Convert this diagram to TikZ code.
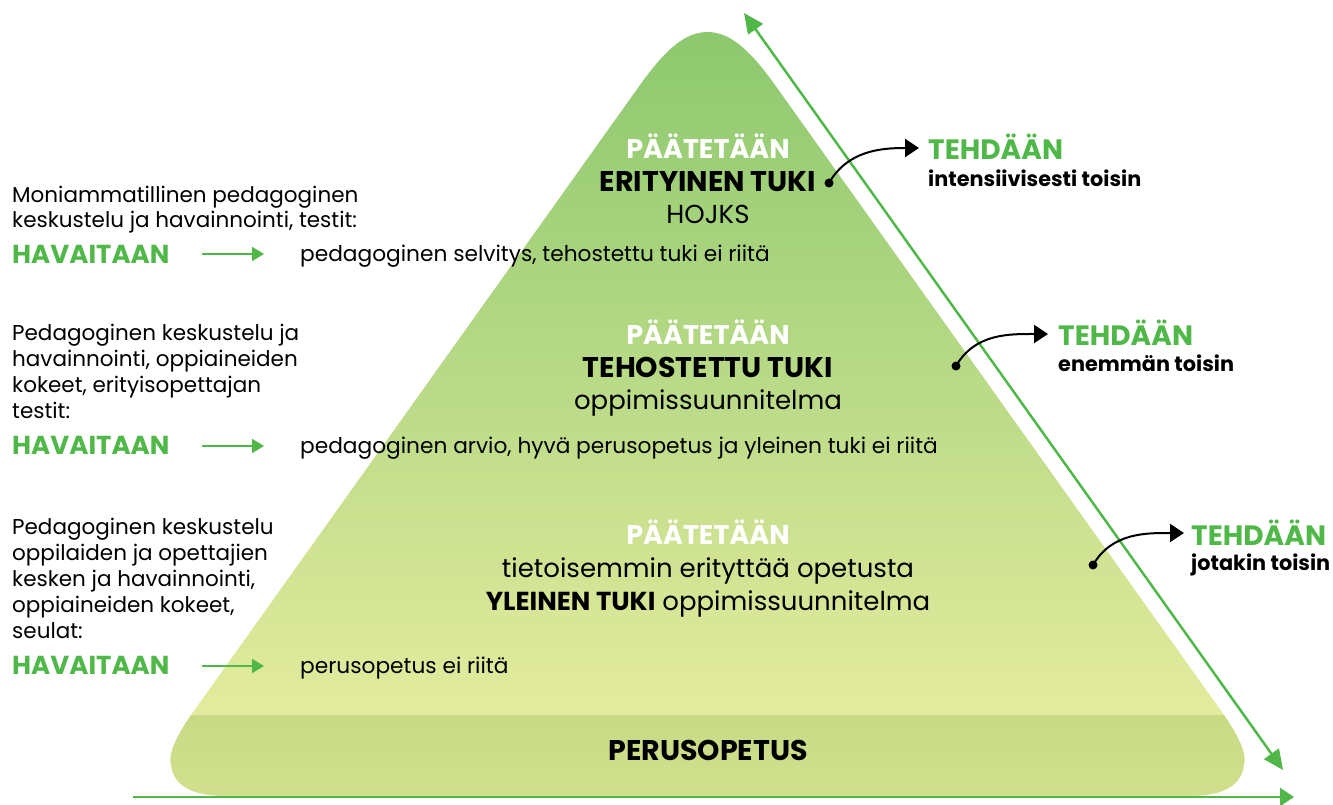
\documentclass[tikz,border=0pt]{standalone}
\usepackage{fontspec}
\setmainfont{Poppins}
\usetikzlibrary{arrows.meta}
\definecolor{ggreen}{RGB}{80,184,72}
\definecolor{ptop}{RGB}{140,200,110}
\definecolor{pbot}{RGB}{228,235,158}
\definecolor{bandtop}{RGB}{199,218,132}
\definecolor{bandbot}{RGB}{210,224,142}
\tikzset{
  lefttxt/.style={anchor=base west,inner sep=0pt,align=left,font=\fontsize{21.5}{25.8}\selectfont},
  havtxt/.style={anchor=base west,inner sep=0pt,text=ggreen,font=\fontsize{26}{28}\selectfont\bfseries},
  midtxt/.style={anchor=base west,inner sep=0pt,font=\fontsize{21.7}{24}\selectfont},
  pyrhead/.style={anchor=base,inner sep=0pt,text=white,font=\fontsize{27}{28}\selectfont\bfseries},
  pyrbold/.style={anchor=base,inner sep=0pt,font=\fontsize{28.5}{28}\selectfont\bfseries},
  pyrreg/.style={anchor=base,inner sep=0pt,font=\fontsize{26}{28}\selectfont},
  tehhead/.style={anchor=base west,inner sep=0pt,text=ggreen,font=\fontsize{28}{28}\selectfont\bfseries},
  tehsub/.style={anchor=base west,inner sep=0pt,font=\fontsize{20.8}{22}\selectfont\bfseries},
  smallarrow/.style={ggreen,line width=2pt,-{Triangle[length=12pt,width=14pt]}},
  bigarrow/.style={ggreen,line width=2.5pt,{Triangle[length=20pt,width=18pt]}-{Triangle[length=20pt,width=18pt]}},
  baseline arrow/.style={ggreen,line width=2.5pt,-{Triangle[length=14pt,width=18pt]}},
  blackarrow/.style={black,line width=2pt,-{Triangle[length=14pt,width=18pt]}},
  dotnode/.style={circle,fill=black,minimum size=9pt,inner sep=0pt}
}
\begin{document}
\begin{tikzpicture}[x=1pt,y=-1pt]
\path[use as bounding box] (0,0) rectangle (1333,805);
\def\pyr{(191,715) -- (640,85) .. controls (665,50) and (685,32) .. (707.5,32) .. controls (730,32) and (750,50) .. (775,85) -- (1224,715) .. controls (1240,738) and (1247,755) .. (1244,765) .. controls (1241,790) and (1215,796) .. (1190,796) -- (225,796) .. controls (200,796) and (174,790) .. (171,765) .. controls (168,755) and (175,738) .. (191,715) -- cycle}
\begin{scope}
\clip \pyr;
\shade[top color=ptop,bottom color=pbot] (0,30) rectangle (1333,715);
\shade[top color=bandtop,bottom color=bandbot] (0,715) rectangle (1333,800);
\end{scope}

% axes
\coordinate (ra1) at (1283,770);
\coordinate (ra2) at (744,13);
\draw[bigarrow] (ra1) -- (ra2);
\coordinate (ba1) at (133,797);
\coordinate (ba2) at (1294,797);
\draw[baseline arrow] (ba1) -- (ba2);

% pyramid texts
\node[pyrhead] (p1) at (708,159) {PÄÄTETÄÄN};
\node[pyrbold] (p2) at (708,192) {ERITYINEN TUKI};
\node[pyrreg]  (p3) at (708,223) {HOJKS};
\node[pyrhead] (q1) at (708,344) {PÄÄTETÄÄN};
\node[pyrbold] (q2) at (708,377) {TEHOSTETTU TUKI};
\node[pyrreg]  (q3) at (708,409) {oppimissuunnitelma};
\node[pyrhead] (r1) at (708,544) {PÄÄTETÄÄN};
\node[pyrreg]  (r2) at (708,577) {tietoisemmin erityttää opetusta};
\node[pyrreg]  (r3) at (708,610) {\textbf{YLEINEN TUKI} oppimissuunnitelma};
\node[pyrbold] (base) at (708,760) {PERUSOPETUS};

% left texts
\node[lefttxt] (l1) at (12,228) {Moniammatillinen pedagoginen\\keskustelu ja havainnointi, testit:};
\node[havtxt] (h1) at (12,263) {HAVAITAAN};
\coordinate (a1s) at (202,254);
\coordinate (a1e) at (264,254);
\draw[smallarrow] (a1s) -- (a1e);
\node[midtxt] (m1) at (300,261) {pedagoginen selvitys, tehostettu tuki ei riitä};

\node[lefttxt] (l2) at (12,418) {Pedagoginen keskustelu ja\\havainnointi, oppiaineiden\\kokeet, erityisopettajan\\testit:};
\node[havtxt] (h2) at (12,454) {HAVAITAAN};
\coordinate (a2s) at (202,446);
\coordinate (a2e) at (264,446);
\draw[smallarrow] (a2s) -- (a2e);
\node[midtxt] (m2) at (300,453) {pedagoginen arvio, hyvä perusopetus ja yleinen tuki ei riitä};

\node[lefttxt] (l3) at (12,638) {Pedagoginen keskustelu\\oppilaiden ja opettajien\\kesken ja havainnointi,\\oppiaineiden kokeet,\\seulat:};
\node[havtxt] (h3) at (12,674) {HAVAITAAN};
\coordinate (a3s) at (202,666);
\coordinate (a3e) at (264,666);
\draw[smallarrow] (a3s) -- (a3e);
\node[midtxt] (m3) at (300,673) {perusopetus ei riitä};

% right texts
\node[dotnode] (d1) at (829,183) {};
\coordinate (t1) at (919,148);
\draw[blackarrow] (d1.center) to[out=60,in=180] (t1);
\node[tehhead] (e1) at (928,160) {TEHDÄÄN};
\node[tehsub] (f1) at (928,187) {intensiivisesti toisin};

\node[dotnode] (d2) at (956,366) {};
\coordinate (t2) at (1048,334);
\draw[blackarrow] (d2.center) to[out=60,in=180] (t2);
\node[tehhead] (e2) at (1058,345) {TEHDÄÄN};
\node[tehsub] (f2) at (1058,371) {enemmän toisin};

\node[dotnode] (d3) at (1093,565) {};
\coordinate (t3) at (1184,533);
\draw[blackarrow] (d3.center) to[out=60,in=180] (t3);
\node[tehhead] (e3) at (1191,545) {TEHDÄÄN};
\node[tehsub] (f3) at (1191,570) {jotakin toisin};
\end{tikzpicture}
\end{document}
